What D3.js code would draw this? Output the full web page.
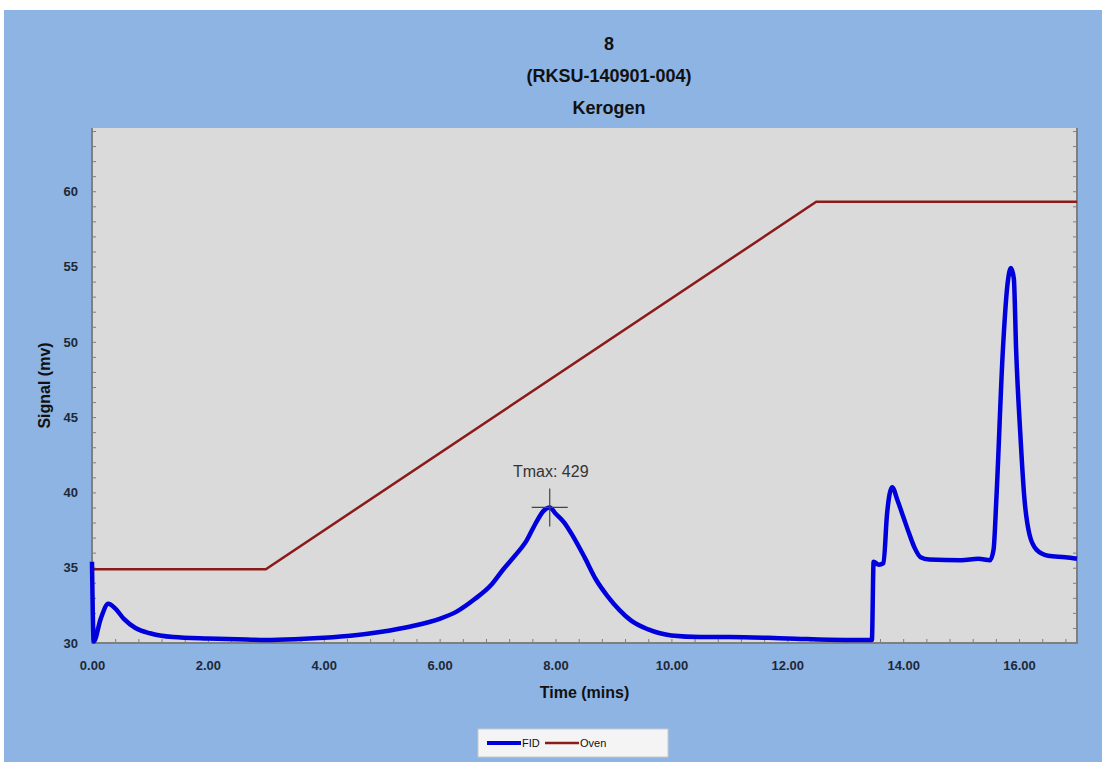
<!DOCTYPE html>
<html>
<head>
<meta charset="utf-8">
<script src="https://cdn.jsdelivr.net/npm/d3@7"></script>
<style>
body{margin:0;background:#fff;}
svg{display:block;}
</style>
</head>
<body>
<div id="svgContainer"></div>
<script>
// chart values
var titleLines = ["8", "(RKSU-140901-004)", "Kerogen"];
var xTicks = [0, 2, 4, 6, 8, 10, 12, 14, 16];
var yTicks = [30, 35, 40, 45, 50, 55, 60];

var fidTime = [0, 0.03, 0.15, 0.28, 0.4, 0.55, 0.75, 1.0, 1.4, 2.0, 2.5, 3.0, 3.5, 4.0, 4.5, 5.0, 5.5, 6.0, 6.3, 6.6, 6.9, 7.1, 7.3, 7.5, 7.65, 7.8, 7.9, 8.0, 8.15, 8.3, 8.5, 8.7, 8.9, 9.1, 9.3, 9.6, 10.0, 10.5, 11.0, 12.0, 13.0, 13.46, 13.49, 13.58, 13.66, 13.72, 13.81, 13.9, 14.0, 14.1, 14.2, 14.3, 14.45, 15.0, 15.3, 15.5, 15.56, 15.61, 15.72, 15.8, 15.86, 15.91, 15.95, 16.02, 16.09, 16.18, 16.3, 16.5, 16.8, 17.0];
var fidSignal = [35.4, 30.1, 31.6, 32.6, 32.3, 31.6, 31.0, 30.65, 30.4, 30.3, 30.25, 30.2, 30.25, 30.35, 30.5, 30.75, 31.1, 31.6, 32.1, 32.9, 33.9, 34.9, 35.8, 36.8, 37.9, 38.8, 39.0, 38.6, 38.0, 37.1, 35.7, 34.2, 33.1, 32.2, 31.5, 30.9, 30.5, 30.4, 30.4, 30.3, 30.2, 30.2, 35.4, 35.2, 35.3, 38.5, 40.35, 39.5, 38.4, 37.3, 36.3, 35.7, 35.55, 35.5, 35.6, 35.5, 36.2, 39.7, 49.4, 53.8, 54.9, 54.2, 49.4, 44.0, 39.7, 37.2, 36.2, 35.8, 35.7, 35.6];

var ovenTime = [0, 3.0, 12.5, 17.0];
var ovenSignal = [34.9, 34.9, 59.3, 59.3];

var tmaxTime = 7.9, tmaxSignal = 39.0, tmaxLabel = "Tmax: 429";

var seriesNames = ["FID", "Oven"];
var seriesColors = ["#0000dc", "#8b1a1a"];

var svgWidth = 1102, svgHeight = 762;
var margin = {top:128, left:92, right:25, bottom:119};
var width = svgWidth - margin.left - margin.right;
var height = svgHeight - margin.top - margin.bottom;

var svg = d3.select("#svgContainer").append("svg")
    .attr("width", svgWidth)
    .attr("height", svgHeight);

// outer chart background
svg.append("rect")
    .attr("x", 4).attr("y", 10)
    .attr("width", svgWidth - 4).attr("height", svgHeight - 10)
    .attr("fill", "#8db4e2");

var x = d3.scaleLinear().domain([0, 17]).range([margin.left, margin.left + width]);
var y = d3.scaleLinear().domain([30, 64.2]).range([margin.top + height, margin.top]);

// plot area
svg.append("rect")
    .attr("x", x(0)).attr("y", y(64.2))
    .attr("width", width).attr("height", height)
    .attr("fill", "#dadada");

// titles
svg.append("g").attr("id", "topic")
    .selectAll("text")
    .data(titleLines)
    .enter().append("text")
    .attr("x", 609)
    .attr("y", function(d, i){ return 50 + i * 32; })
    .attr("text-anchor", "middle")
    .attr("font-family", "Liberation Sans, Arial, sans-serif")
    .attr("font-weight", "bold")
    .attr("font-size", 18)
    .attr("fill", "#111")
    .text(function(d){ return d; });

// y labels
var yLab = svg.append("g")
    .attr("id", "yaxis")
    .attr("transform", "translate(" + margin.left + ",0)")
    .call(d3.axisLeft(y).tickValues(yTicks).tickSize(0).tickPadding(14).tickFormat(d3.format("d")));
yLab.select(".domain").remove();
yLab.selectAll("text")
    .attr("font-family", "Liberation Sans, Arial, sans-serif")
    .attr("font-weight", "bold")
    .attr("font-size", 13)
    .attr("fill", "#1e2838");

// x labels
var xLab = svg.append("g")
    .attr("id", "xaxis")
    .attr("transform", "translate(0," + (margin.top + height) + ")")
    .call(d3.axisBottom(x).tickValues(xTicks).tickSize(0).tickPadding(18).tickFormat(d3.format(".2f")));
xLab.select(".domain").remove();
xLab.selectAll("text")
    .attr("font-family", "Liberation Sans, Arial, sans-serif")
    .attr("font-weight", "bold")
    .attr("font-size", 13)
    .attr("fill", "#1e2838");

// inside tick marks
function styleTicks(g){
    g.select(".domain").remove();
    g.selectAll("line").attr("stroke", "#7f7f7f").attr("stroke-width", 1);
}
svg.append("g")
    .attr("transform", "translate(" + margin.left + ",0)")
    .call(d3.axisRight(y).tickValues(d3.range(30, 64.01, 1)).tickSize(4).tickFormat(""))
    .call(styleTicks);
svg.append("g")
    .attr("transform", "translate(" + (margin.left + width) + ",0)")
    .call(d3.axisLeft(y).tickValues(d3.range(30, 64.01, 1)).tickSize(4).tickFormat(""))
    .call(styleTicks);
svg.append("g")
    .attr("transform", "translate(0," + (margin.top + height) + ")")
    .call(d3.axisTop(x).tickValues(d3.range(0, 17.01, 0.4)).tickSize(4).tickFormat(""))
    .call(styleTicks);

// axis lines
svg.append("path")
    .attr("d", "M" + x(0) + "," + y(64.2) + "V" + y(30) + "H" + x(17) + "V" + y(64.2))
    .attr("fill", "none")
    .attr("stroke", "#7f7f7f")
    .attr("stroke-width", 2);

// axis titles
svg.append("text")
    .attr("transform", "translate(50," + (margin.top + height / 2) + ") rotate(-90)")
    .attr("text-anchor", "middle")
    .attr("font-family", "Liberation Sans, Arial, sans-serif")
    .attr("font-weight", "bold")
    .attr("font-size", 16)
    .attr("fill", "#111")
    .text("Signal (mv)");
svg.append("text")
    .attr("x", margin.left + width / 2)
    .attr("y", 698)
    .attr("text-anchor", "middle")
    .attr("font-family", "Liberation Sans, Arial, sans-serif")
    .attr("font-weight", "bold")
    .attr("font-size", 16)
    .attr("fill", "#111")
    .text("Time (mins)");

// series
var fid = fidTime.map(function(t, i){ return {t:t, v:fidSignal[i]}; });
var oven = ovenTime.map(function(t, i){ return {t:t, v:ovenSignal[i]}; });
var line = d3.line().x(function(d){ return x(d.t); }).y(function(d){ return y(d.v); });

svg.append("path")
    .datum(oven)
    .attr("d", line)
    .attr("fill", "none")
    .attr("stroke", seriesColors[1])
    .attr("stroke-width", 2.5);

svg.append("path")
    .datum(fid)
    .attr("d", line.curve(d3.curveMonotoneX))
    .attr("fill", "none")
    .attr("stroke", seriesColors[0])
    .attr("stroke-width", 4.5)
    .attr("stroke-linejoin", "round");

// Tmax marker
var tx = x(tmaxTime), ty = y(tmaxSignal);
svg.append("path")
    .attr("d", "M" + (tx - 18) + "," + ty + "H" + (tx + 18) + "M" + tx + "," + (ty - 19) + "V" + (ty + 19))
    .attr("stroke", "#444")
    .attr("stroke-width", 1.2);
svg.append("text")
    .attr("x", tx + 1)
    .attr("y", ty - 30)
    .attr("text-anchor", "middle")
    .attr("font-family", "Liberation Sans, Arial, sans-serif")
    .attr("font-size", 16)
    .attr("fill", "#333")
    .text(tmaxLabel);

// legend
var legend = svg.append("g").attr("transform", "translate(478,729)");
legend.append("rect")
    .attr("width", 190).attr("height", 28)
    .attr("fill", "#f4f4f4")
    .attr("stroke", "#c8c8c8");
var items = legend.selectAll(".legend")
    .data(seriesNames)
    .enter().append("g")
    .attr("class", "legend")
    .attr("transform", function(d, i){ return "translate(" + (9 + i * 58) + ",14)"; });
items.append("line")
    .attr("x1", 0).attr("x2", 34)
    .attr("stroke", function(d, i){ return seriesColors[i]; })
    .attr("stroke-width", function(d, i){ return i == 0 ? 4 : 2.5; });
items.append("text")
    .attr("x", 35)
    .attr("dy", "0.35em")
    .attr("font-family", "Liberation Sans, Arial, sans-serif")
    .attr("font-size", 11)
    .attr("fill", "#111")
    .text(function(d){ return d; });
</script>
</body>
</html>
